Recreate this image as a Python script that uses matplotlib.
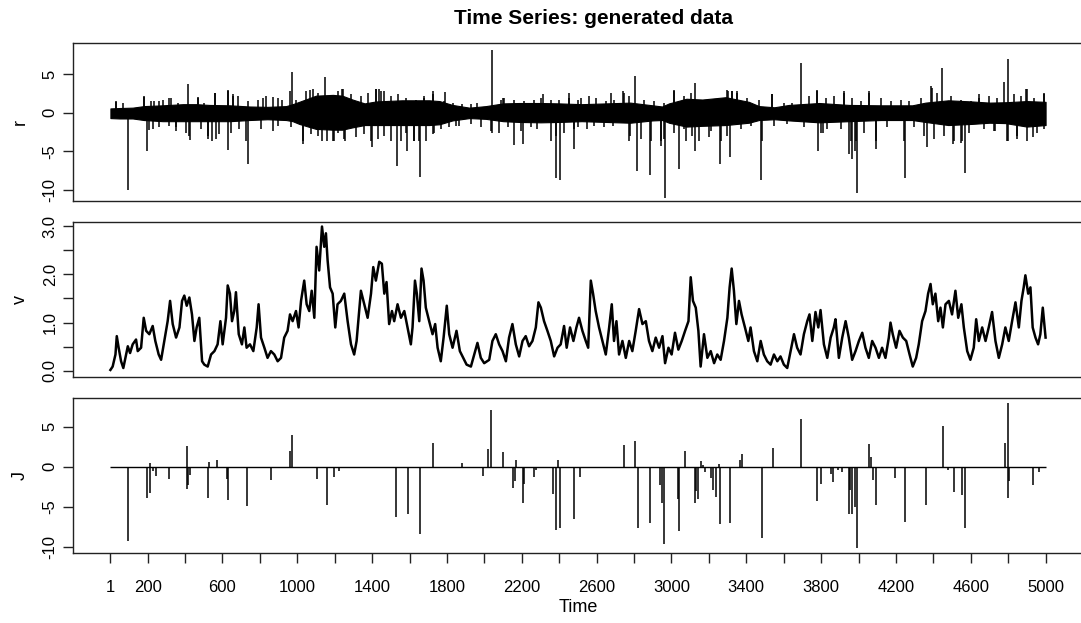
import matplotlib
matplotlib.use("Agg")
import matplotlib.pyplot as plt
import numpy as np

plt.rcParams['font.family'] = ['Liberation Sans', 'DejaVu Sans']

title = "Time Series: generated data"
xlabel = "Time"
panel_labels = ["r", "v", "J"]

# ---- v series ----
v_t = [1, 13, 28, 35, 45, 58, 70, 81, 94, 106, 120, 138, 147, 165, 179, 192, 209, 227, 241, 259,
       272, 289, 307, 320, 334, 352, 370, 384, 396, 409, 423, 437, 450, 462, 476, 491, 503, 521, 539, 557,
       574, 589, 601, 619, 628, 640, 651, 663, 672, 687, 704, 717, 729, 747, 765, 783, 793, 806, 824, 841,
       859, 877, 895, 913, 930, 948, 961, 975, 993, 1007, 1020, 1037, 1050, 1064, 1077, 1091, 1103, 1117, 1132, 1144,
       1153, 1162, 1175, 1189, 1203, 1215, 1233, 1251, 1269, 1287, 1304, 1317, 1331, 1340, 1358, 1376, 1394, 1406, 1420, 1438,
       1452, 1465, 1477, 1491, 1506, 1518, 1536, 1554, 1572, 1589, 1607, 1616, 1629, 1639, 1652, 1664, 1675, 1687, 1705, 1723,
       1737, 1750, 1767, 1782, 1799, 1812, 1830, 1851, 1869, 1887, 1905, 1928, 1946, 1963, 1981, 1999, 2026, 2043, 2061, 2079,
       2097, 2115, 2132, 2150, 2168, 2186, 2204, 2221, 2239, 2257, 2275, 2289, 2302, 2319, 2337, 2355, 2373, 2391, 2408, 2426,
       2440, 2458, 2476, 2492, 2506, 2524, 2542, 2555, 2569, 2581, 2595, 2613, 2631, 2649, 2667, 2681, 2693, 2706, 2720, 2738,
       2756, 2774, 2791, 2809, 2827, 2845, 2863, 2880, 2898, 2916, 2934, 2952, 2966, 2984, 3001, 3019, 3037, 3055, 3073, 3091,
       3103, 3115, 3130, 3144, 3156, 3174, 3192, 3210, 3228, 3245, 3263, 3281, 3299, 3311, 3322, 3334, 3347, 3361, 3375, 3393,
       3411, 3423, 3441, 3459, 3477, 3494, 3512, 3530, 3548, 3566, 3583, 3601, 3619, 3637, 3655, 3672, 3690, 3708, 3726, 3738,
       3753, 3770, 3785, 3797, 3815, 3833, 3851, 3868, 3877, 3895, 3913, 3931, 3948, 3966, 3984, 4002, 4020, 4037, 4055, 4073,
       4091, 4109, 4126, 4144, 4162, 4171, 4183, 4201, 4219, 4237, 4255, 4273, 4290, 4308, 4322, 4340, 4358, 4372, 4385, 4397,
       4411, 4426, 4438, 4451, 4465, 4483, 4500, 4518, 4533, 4550, 4563, 4581, 4598, 4616, 4629, 4643, 4661, 4679, 4696, 4714,
       4732, 4750, 4768, 4785, 4803, 4821, 4839, 4857, 4871, 4883, 4892, 4907, 4919, 4931, 4946, 4960, 4972, 4985, 4995, 5000]
v_vals = [0.02, 0.09, 0.34, 0.72, 0.48, 0.20, 0.06, 0.27, 0.51, 0.37, 0.55, 0.65, 0.41, 0.48, 1.10, 0.83, 0.76, 0.93, 0.62, 0.34,
          0.23, 0.62, 1.03, 1.45, 0.97, 0.69, 0.90, 1.45, 1.56, 1.35, 1.52, 1.17, 0.62, 0.90, 1.10, 0.20, 0.13, 0.09, 0.34, 0.41,
          0.55, 1.03, 0.55, 1.10, 1.77, 1.60, 1.03, 1.24, 1.63, 0.76, 0.55, 0.90, 0.48, 0.55, 0.41, 0.90, 1.38, 0.69, 0.48, 0.27,
          0.41, 0.34, 0.20, 0.27, 0.69, 0.83, 1.17, 1.03, 1.24, 0.90, 1.45, 1.87, 1.38, 1.24, 1.66, 1.10, 2.57, 2.08, 2.99, 2.57,
          2.85, 2.29, 1.73, 1.60, 0.90, 1.38, 1.45, 1.60, 1.03, 0.55, 0.34, 0.62, 1.24, 1.66, 1.38, 1.10, 1.60, 2.15, 1.87, 2.26,
          2.22, 1.60, 1.84, 0.97, 1.24, 1.03, 1.38, 1.10, 1.24, 0.90, 0.55, 0.90, 1.87, 1.60, 1.03, 2.12, 1.87, 1.31, 1.03, 0.76,
          0.97, 0.48, 0.20, 0.69, 1.35, 0.76, 0.48, 0.83, 0.41, 0.27, 0.13, 0.09, 0.34, 0.58, 0.27, 0.16, 0.23, 0.62, 0.76, 0.55,
          0.41, 0.20, 0.69, 0.97, 0.55, 0.30, 0.62, 0.72, 0.51, 0.62, 0.90, 1.42, 1.31, 1.03, 0.83, 0.62, 0.30, 0.48, 0.55, 0.93,
          0.48, 0.90, 0.62, 0.90, 1.10, 0.83, 0.62, 0.48, 1.87, 1.60, 1.24, 0.90, 0.62, 0.34, 0.90, 1.38, 0.62, 1.03, 0.34, 0.62,
          0.27, 0.62, 0.41, 0.83, 1.28, 0.97, 1.03, 0.62, 0.41, 0.69, 0.48, 0.72, 0.16, 0.48, 0.34, 0.79, 0.44, 0.62, 0.83, 1.03,
          1.94, 1.45, 1.31, 0.83, 0.09, 0.76, 0.27, 0.41, 0.16, 0.34, 0.23, 0.62, 1.10, 1.73, 2.12, 1.66, 0.97, 1.45, 1.17, 0.90,
          0.62, 0.90, 0.41, 0.20, 0.62, 0.34, 0.20, 0.13, 0.34, 0.20, 0.30, 0.13, 0.06, 0.41, 0.76, 0.48, 0.34, 0.76, 1.03, 1.17,
          0.62, 1.22, 0.90, 1.26, 0.55, 0.27, 0.69, 0.90, 1.07, 0.27, 0.69, 1.03, 0.69, 0.23, 0.41, 0.62, 0.79, 0.48, 0.27, 0.62,
          0.48, 0.27, 0.48, 0.27, 0.69, 1.00, 0.76, 0.48, 0.83, 0.69, 0.62, 0.34, 0.09, 0.27, 0.55, 1.03, 1.24, 1.60, 1.80, 1.38,
          1.60, 1.03, 1.31, 0.90, 1.38, 1.45, 1.17, 1.66, 1.10, 1.38, 0.90, 0.41, 0.23, 0.48, 1.07, 0.62, 0.90, 0.62, 0.90, 1.22,
          0.62, 0.27, 0.55, 0.90, 0.62, 1.03, 1.42, 0.90, 1.45, 1.73, 1.98, 1.60, 1.73, 0.90, 0.69, 0.55, 0.76, 1.31, 0.90, 0.69]

# ---- J series: jump times and sizes (zero elsewhere) ----
J_t = [95, 197, 211, 214, 228, 245, 316, 409, 412, 418, 425, 521, 530, 571, 625, 630, 731, 859, 963, 970,
       1105, 1157, 1198, 1224, 1529, 1590, 1657, 1727, 1878, 1994, 2020, 2038, 2099, 2155, 2162, 2168, 2209, 2214, 2266, 2275,
       2368, 2385, 2392, 2403, 2481, 2513, 2745, 2804, 2820, 2887, 2939, 2947, 2962, 3035, 3043, 3074, 3124, 3132, 3140, 3160,
       3167, 3181, 3213, 3222, 3237, 3256, 3260, 3311, 3369, 3379, 3482, 3541, 3694, 3780, 3797, 3855, 3863, 3889, 3911, 3949,
       3957, 3963, 3983, 3990, 4057, 4065, 4075, 4093, 4194, 4246, 4362, 4450, 4478, 4508, 4551, 4567, 4781, 4798, 4801, 4805,
       4932, 4964]
J_vals = [-9.17, -3.88, 0.45, -3.30, -0.50, -1.10, -1.50, 2.60, -2.70, -2.30, -1.00, -3.88, 0.60, 0.85, -1.50, -4.10, -4.83, -1.60, 2.00, 3.96,
          -1.50, -4.80, -1.30, -0.50, -6.25, -5.86, -8.35, 3.00, 0.45, -1.10, 2.20, 7.05, 1.80, -2.65, -1.70, 0.85, -4.50, -2.10, -1.20, -0.40,
          -3.40, -7.85, 0.80, -7.64, -6.50, -1.30, 2.75, 3.20, -7.64, -7.00, -2.20, -4.50, -9.60, -4.00, -8.00, 2.00, -4.55, -3.00, -4.00, 0.75,
          0.20, -0.60, -1.40, -2.90, -3.80, 0.40, -7.10, -6.95, 0.80, 1.65, -8.80, 2.40, 5.90, -4.20, -2.10, -0.85, -1.85, -0.40, -0.60, -5.80,
          -2.90, -5.80, -5.00, -10.10, 2.80, 1.20, -1.60, -4.80, -1.40, -6.90, -4.70, 5.10, -0.40, -3.10, -3.50, -7.60, 3.00, 7.90, -3.90, -1.80,
          -2.30, -0.60]

# ---- r series: envelope of the dense core and the spikes standing out of it ----
r_core_t = [1, 50, 120, 180, 280, 390, 460, 530, 640, 744, 840, 940, 975, 1010, 1100, 1190, 1240, 1295, 1360, 1420,
            1560, 1705, 1760, 1830, 1920, 2008, 2100, 2186, 2300, 2400, 2520, 2650, 2780, 2900, 2950, 2987, 3080, 3165, 3290, 3414,
            3468, 3550, 3628, 3790, 3950, 4120, 4287, 4358, 4480, 4608, 4700, 4786, 4900, 5000]
r_core_hi = [0.55, 0.60, 0.65, 0.85, 0.95, 1.10, 1.10, 1.00, 0.95, 0.80, 0.75, 0.85, 1.10, 1.40, 2.20, 2.30, 2.20, 1.70, 1.20, 1.45,
             1.60, 1.60, 1.50, 1.00, 0.65, 0.85, 1.20, 1.25, 1.25, 1.20, 1.10, 1.20, 1.30, 0.95, 0.80, 1.20, 1.80, 1.70, 2.00, 1.40,
             0.85, 0.70, 1.00, 1.25, 1.00, 0.95, 0.95, 1.30, 1.60, 1.45, 1.30, 1.35, 1.50, 1.40]
r_core_lo = [-0.70, -0.75, -0.75, -0.95, -1.10, -1.10, -1.10, -1.10, -1.10, -0.95, -0.85, -0.95, -1.10, -1.45, -2.10, -2.20, -2.20, -1.90, -1.60, -1.60,
             -1.60, -1.60, -1.50, -1.00, -0.70, -0.80, -1.10, -1.20, -1.25, -1.20, -1.10, -1.20, -1.30, -1.00, -0.95, -1.30, -1.80, -1.70, -1.60, -1.30,
             -0.95, -0.85, -1.00, -1.25, -1.10, -0.95, -0.95, -1.20, -1.60, -1.45, -1.30, -1.35, -1.80, -1.60]
# large spikes
r_spike_t = [31, 97, 179, 197, 209, 259, 316, 352, 418, 423, 468, 521, 562, 564, 630, 632, 655, 735, 815, 868,
             870, 918, 962, 970, 1032, 1068, 1132, 1148, 1189, 1242, 1251, 1397, 1420, 1447, 1531, 1588, 1625, 1657, 1678, 1723,
             1725, 1791, 1848, 2040, 2042, 2097, 2159, 2209, 2316, 2385, 2403, 2453, 2480, 2676, 2743, 2777, 2804, 2818, 2886, 2943,
             2964, 3014, 3041, 3076, 3124, 3126, 3201, 3260, 3299, 3311, 3326, 3352, 3480, 3539, 3694, 3779, 3781, 3812, 3922, 3949,
             3966, 3979, 3990, 4055, 4091, 4246, 4364, 4390, 4447, 4506, 4549, 4568, 4643, 4732, 4780, 4798, 4800, 4848, 4896, 4932,
             4990]
r_spike_v = [1.4, -10.0, 2.0, -5.0, -2.2, 1.5, 1.9, -2.4, 3.75, -3.0, 2.0, -3.4, 2.5, -3.4, 2.9, -4.8, 2.2, -6.7, 1.9, 2.0,
             -2.4, 1.6, 2.8, 5.2, -4.1, 2.9, -3.7, 4.6, -3.7, 3.1, -3.4, -4.4, 3.1, 2.8, -6.9, -4.9, -3.7, -8.3, 2.2, 2.8,
             -2.8, 2.7, -1.7, 8.06, -2.6, 1.9, -4.2, -4.0, 2.4, -8.5, -8.75, 2.5, -4.65, 2.6, 2.8, -3.0, 4.8, -7.5, -8.0, -4.3,
             -11.0, 2.9, -7.3, -3.7, 3.9, -4.9, -3.2, -6.7, 2.9, -5.7, 2.8, 2.8, -8.75, 2.4, 6.4, 2.9, -4.9, -2.6, 2.8, -5.4,
             -6.0, -5.0, -10.4, 2.8, -4.7, -8.5, -4.4, 3.4, 5.8, -4.1, -3.9, -7.75, 2.4, -2.4, 4.0, 7.0, -3.7, -3.4, 3.1, -3.2,
             2.5]
# small spikes fringing the core
r_small_t = [31, 67, 179, 218, 236, 281, 325, 364, 468, 503, 562, 631, 655, 681, 735, 788, 833, 895, 993, 1046,
             1082, 1109, 1171, 1215, 1237, 1287, 1340, 1376, 1420, 1438, 1465, 1500, 1536, 1581, 1634, 1678, 1723, 1785, 1830, 1883,
             1928, 1963, 2088, 2106, 2159, 2213, 2266, 2302, 2355, 2400, 2453, 2498,
             227, 263, 316, 352, 405, 428, 485, 525, 544, 583, 646, 690, 726, 806, 895, 966, 1028, 1073, 1109, 1158,
             1194, 1215, 1255, 1313, 1358, 1394, 1429, 1465, 1500, 1554, 1581, 1625, 1652, 1687, 1732, 1767, 1812, 1865, 1928, 1981,
             2035, 2079, 2124, 2195, 2248, 2284, 2355, 2382, 2426, 2480,
             2516, 2560, 2596, 2649, 2694, 2744, 2774, 2854, 2907, 2961, 3014, 3068, 3103, 3192, 3246, 3303, 3326, 3353, 3406, 3468,
             3540, 3602, 3646, 3735, 3780, 3824, 3869, 3922, 3967, 4011, 4056, 4118, 4172, 4225, 4270, 4332, 4394, 4421, 4492, 4546,
             4599, 4644, 4697, 4741, 4831, 4866, 4898, 4937, 4991,
             2498, 2551, 2587, 2637, 2690, 2774, 2836, 2890, 2943, 2961, 3014, 3068, 3112, 3148, 3210, 3263, 3299, 3370, 3424, 3486,
             3548, 3620, 3709, 3798, 3833, 3905, 3958, 3985, 4029, 4092, 4154, 4243, 4296, 4350, 4403, 4457, 4510, 4554, 4590, 4670,
             4724, 4795, 4848, 4902, 4955, 4991]
r_small_v = [1.5, 1.3, 2.16, 1.5, 1.5, 1.7, 1.9, 1.3, 1.9, 1.3, 2.6, 2.8, 2.4, 2.16, 1.5, 1.7, 2.16, 1.9, 1.7, 2.8,
             3.0, 2.6, 2.16, 2.8, 3.0, 2.4, 2.16, 2.6, 3.0, 3.0, 2.8, 2.16, 2.4, 1.9, 1.7, 1.9, 2.4, 1.5, 1.3, 1.1,
             1.1, 1.3, 1.7, 1.9, 1.7, 1.5, 1.7, 1.9, 1.7, 1.7, 1.9, 1.7,
             -2.16, -1.9, -1.7, -1.9, -2.6, -3.5, -2.16, -3.0, -3.6, -2.8, -2.6, -2.16, -3.6, -2.16, -1.7, -1.9, -3.7, -2.8, -3.0, -3.7,
             -3.7, -2.6, -3.6, -3.2, -2.8, -3.6, -3.4, -3.0, -3.6, -3.6, -2.6, -3.7, -3.7, -3.6, -2.6, -2.16, -1.9, -1.7, -1.5, -1.9,
             -2.4, -2.6, -1.9, -2.4, -1.9, -2.16, -3.6, -3.0, -2.6, -2.16,
             1.9, 2.16, 1.9, 1.5, 1.7, 2.6, 2.16, 1.7, 1.5, 1.3, 2.8, 2.16, 2.6, 1.5, 1.5, 2.8, 2.8, 2.6, 1.9, 1.7,
             2.4, 1.3, 1.3, 2.16, 2.8, 1.9, 2.16, 2.6, 1.9, 1.5, 2.6, 1.9, 1.5, 1.7, 1.5, 1.9, 3.2, 2.6, 2.16, 1.7,
             1.5, 1.9, 2.16, 1.9, 2.4, 2.16, 3.0, 1.9, 2.4,
             -1.9, -2.16, -1.7, -1.9, -1.7, -3.7, -3.4, -3.7, -3.7, -3.4, -2.6, -2.16, -3.0, -3.7, -2.4, -3.7, -3.0, -2.16, -1.7, -3.7,
             -1.7, -1.5, -1.9, -2.6, -2.16, -2.16, -3.7, -3.7, -2.6, -3.7, -1.9, -3.7, -1.9, -3.0, -3.4, -3.0, -3.7, -3.7, -2.6, -2.16,
             -2.4, -3.7, -3.0, -3.7, -2.6, -2.16]

x_ticks = [1] + list(range(200, 5001, 200))
x_tick_labels = ["1", "200", "", "600", "", "1000", "", "1400", "", "1800", "", "2200", "", "2600", "",
                 "3000", "", "3400", "", "3800", "", "4200", "", "4600", "", "5000"]

W, H = 1081, 623
fig = plt.figure(figsize=(W / 100, H / 100), dpi=100)

def frac_rect(top, bottom, left=73, right=1083):
    return [left / W, 1 - bottom / H, (right - left) / W, (bottom - top) / H]

ax1 = fig.add_axes(frac_rect(43.3, 201))
ax2 = fig.add_axes(frac_rect(221.7, 376.7))
ax3 = fig.add_axes(frac_rect(398.3, 553.3))

lc = 'black'
# r panel
ax1.fill_between(r_core_t, r_core_lo, r_core_hi, color=lc, lw=0.8, edgecolor=lc)
ax1.vlines(r_small_t, 0, r_small_v, color=lc, lw=1.1)
ax1.vlines(r_spike_t, 0, r_spike_v, color=lc, lw=1.1)
ax1.set_ylim(-11.42, 8.97)
ax1.set_yticks([-10, -5, 0, 5])
ax1.set_yticklabels(["-10", "-5", "0", "5"])

# v panel
ax2.plot(v_t, v_vals, color=lc, lw=1.8)
ax2.set_ylim(-0.12, 3.09)
ax2.set_yticks([0, 0.5, 1, 1.5, 2, 2.5, 3])
ax2.set_yticklabels(["0.0", "", "1.0", "", "2.0", "", "3.0"])

# J panel
ax3.hlines(0, 1, 5000, color=lc, lw=1.0)
ax3.vlines(J_t, 0, J_vals, color=lc, lw=1.1)
ax3.set_ylim(-10.74, 8.52)
ax3.set_yticks([-10, -5, 0, 5])
ax3.set_yticklabels(["-10", "-5", "0", "5"])

for ax, lab in zip([ax1, ax2, ax3], panel_labels):
    ax.set_xlim(-199, 5200)
    for s in ax.spines.values():
        s.set_linewidth(1.0)
        s.set_color('#222222')
    ax.tick_params(axis='y', direction='out', length=7, width=1.0, color='#222222',
                   labelsize=12, labelrotation=90, pad=4)
    for t in ax.get_yticklabels():
        t.set_va('center')
    ax.set_ylabel(lab, fontsize=13)
    ax.yaxis.set_label_coords(-44 / 1010, 0.5)

for ax in [ax1, ax2]:
    ax.set_xticks([])

ax3.set_xticks(x_ticks)
ax3.set_xticklabels(x_tick_labels)
ax3.tick_params(axis='x', direction='out', length=7, width=1.0, color='#222222', labelsize=12, pad=12)
ax3.set_xlabel(xlabel, fontsize=13, labelpad=3)

fig.text(593 / W, 1 - 18 / H, title, ha='center', va='center', fontsize=15, fontweight='bold')

fig.savefig("out.png", dpi=100)
